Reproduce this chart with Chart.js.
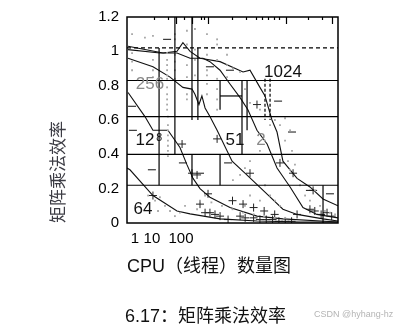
<!DOCTYPE html>
<html>
<head>
<meta charset="utf-8">
<script src="https://cdn.jsdelivr.net/npm/chart.js@4.4.1/dist/chart.umd.min.js"></script>
<style>
    body { margin: 0; background: #fff; }
    #wrap { position: relative; width: 398px; height: 330px; overflow: hidden; }
    #caption { position: absolute; left: 125px; top: 301px; font: 18px "Liberation Sans", "Noto Sans CJK SC"; color: #111; white-space: nowrap; }
    #mark { position: absolute; left: 314px; top: 309px; font: 9px "Liberation Sans", Arial; color: #b4b4b4; white-space: nowrap; }
</style>
</head>
<body>
<div id="wrap">
    <canvas id="chart" width="398" height="330"></canvas>
    <div id="caption">6.17：矩阵乘法效率</div>
    <div id="mark">CSDN @hyhang-hz</div>
</div>
<script>
// axis
const xTickValues = [3.8, 11.8, 25.6];
const xTickLabels = ['1', '10', '100'];
const topTickShort = [12.8, 19.4, 27.0, 35.1, 36.5, 49.8, 56.4, 61.1, 64.0, 66.8, 69.7, 72.0, 85.8, 92.4];
const topTickLong = [23.2, 30.8, 38.4, 75.4, 97.2];

// efficiency curves, one per matrix size
const c64X = [0, 1.4, 12.3, 23.7, 29.9, 44.1, 61.6, 82.0, 100];
const c64Y = [0.32, 0.31, 0.16, 0.07, 0.053, 0.024, 0.012, 0.006, 0.006];
const c128X = [0.5, 8.5, 12.3, 19.4, 25.1, 28.4, 31.3, 34.6, 39.3, 48.8, 61.6, 73.9, 100];
const c128Y = [0.76, 0.62, 0.54, 0.54, 0.44, 0.34, 0.26, 0.20, 0.15, 0.09, 0.04, 0.024, 0.006];
const c256X = [0.5, 12.3, 20.4, 26.5, 30.8, 32.2, 34.1, 35.5, 37.0, 39.3, 42.7, 49.8, 55.9, 65.4, 73.9, 80.6, 92.9, 100];
const c256Y = [0.96, 0.91, 0.85, 0.79, 0.78, 0.75, 0.69, 0.74, 0.67, 0.62, 0.54, 0.36, 0.29, 0.18, 0.08, 0.05, 0.024, 0.012];
const c512X = [0.5, 15.6, 23.7, 29.9, 36.0, 39.3, 44.1, 48.8, 53.6, 57.3, 61.6, 66.4, 71.1, 77.3, 83.4, 90.0, 100];
const c512Y = [1.01, 0.99, 0.99, 0.96, 0.96, 0.94, 0.89, 0.81, 0.73, 0.66, 0.54, 0.46, 0.32, 0.21, 0.09, 0.05, 0.03];
const c1024X = [0.5, 17.1, 23.7, 26.5, 29.9, 34.6, 44.1, 55.0, 58.3, 63.0, 65.4, 68.7, 71.1, 73.9, 80.6, 86.7, 92.9, 100];
const c1024Y = [1.03, 0.99, 1.0, 1.05, 1.0, 0.96, 0.94, 0.88, 0.89, 0.79, 0.74, 0.60, 0.53, 0.36, 0.26, 0.21, 0.14, 0.10];

// measured samples
const grayPts = [
    [2.4, 1.10], [2.4, 0.99], [2.4, 0.94], [2.4, 0.89], [8.5, 1.08], [12.3, 1.09], [12.3, 0.95], [12.3, 0.89], [12.3, 0.85],
    [19.0, 0.99], [19.0, 0.95], [19.0, 0.92], [19.0, 0.89], [19.0, 0.86], [19.0, 0.84], [19.0, 0.79], [19.0, 0.75], [19.0, 0.72],
    [19.0, 0.69], [19.0, 0.66], [22.7, 1.10], [22.7, 1.07], [22.7, 0.98], [22.7, 0.94], [22.7, 0.89], [22.7, 0.84],
    [28.4, 1.12], [28.4, 1.04], [28.4, 0.92], [28.4, 0.85], [28.4, 0.75], [28.4, 0.72], [32.2, 1.13], [32.2, 1.01], [32.2, 0.95],
    [32.2, 0.86], [37.9, 1.10], [37.9, 1.02], [37.9, 0.98], [37.9, 0.89], [37.9, 0.86], [37.9, 0.81], [37.9, 0.75],
    [42.7, 1.07], [42.7, 1.04], [42.7, 0.95], [42.7, 0.84], [42.7, 0.78], [42.7, 0.72], [42.7, 0.66], [47.4, 0.98], [47.4, 0.92],
    [47.4, 0.85], [50.2, 0.90], [53.6, 0.88], [55.9, 0.78], [58.3, 0.70], [63.0, 0.66],
    [19.4, 0.62], [19.4, 0.57], [19.4, 0.54], [19.4, 0.51], [19.4, 0.48], [19.4, 0.45], [19.4, 0.42], [19.4, 0.39],
    [10.0, 0.16], [13.3, 0.13], [15.6, 0.15], [18.0, 0.10], [20.4, 0.07], [22.7, 0.04], [14.7, 0.07], [25.1, 0.06], [27.5, 0.10],
    [33.2, 0.08], [34.6, 0.13], [37.0, 0.16], [50.2, 0.25], [53.6, 0.28], [55.9, 0.32], [58.3, 0.36], [63.0, 0.42], [65.4, 0.48],
    [67.8, 0.57], [70.1, 0.60], [72.5, 0.57], [74.9, 0.48], [76.3, 0.36], [77.3, 0.31], [82.0, 0.22], [84.4, 0.16], [86.7, 0.13],
    [89.1, 0.19], [91.5, 0.10], [93.8, 0.07], [96.2, 0.06], [98.6, 0.05], [74.9, 0.61], [77.3, 0.54], [78.2, 0.42], [79.6, 0.34],
    [65.4, 0.22], [67.8, 0.16], [70.1, 0.13], [72.5, 0.10], [63.0, 0.13], [58.3, 0.16], [55.9, 0.10],
    [40, 0.12], [45, 0.10], [50, 0.08], [55, 0.06], [60, 0.05], [65, 0.04], [70, 0.03], [75, 0.03]
];
const crossPts = [
    [12.3, 0.16], [26.1, 0.46], [30.8, 0.29], [33.2, 0.28], [38.4, 0.17], [42.7, 0.49], [37.0, 0.06], [39.3, 0.06], [41.7, 0.05],
    [44.1, 0.04], [47.9, 0.02], [34.6, 0.11], [58.3, 0.29], [78.7, 0.29], [88.2, 0.19], [72.5, 0.35], [80.6, 0.05], [86.7, 0.08],
    [94.8, 0.06], [53.6, 0.04], [56, 0.03], [60, 0.03], [63, 0.02], [66, 0.02], [69, 0.02], [72, 0.01], [75, 0.01], [78, 0.01],
    [50, 0.13], [55, 0.11], [60, 0.09], [65, 0.07], [70, 0.05], [61.6, 0.69], [89, 0.07], [92, 0.05], [97, 0.04]
];
const dashPts = [
    [2.4, 0.68], [19.0, 1.07], [39.3, 0.91], [48.8, 0.89], [71.6, 0.71], [2.8, 0.54], [11.8, 0.31], [26.5, 0.35],
    [34.6, 0.29], [47.9, 0.35], [78.2, 0.53], [86.7, 0.19], [96.2, 0.17]
];

// reference rules and boxes
const ruleLevels = [0.83, 0.62, 0.40, 0.22];
const dashedLevel = 1.02;
const vSegX = [22.7, 30.8, 30.8, 15.2, 33.6, 44.1, 44.1, 54.5, 56.9, 92.9];
const vSegTop = [1.2, 1.2, 0.40, 1.02, 1.02, 0.83, 0.40, 0.83, 0.83, 0.22];
const vSegBottom = [0.40, 0.60, 0.22, 0.22, 0.60, 0.66, 0.22, 0.40, 0.54, 0];
const dashSegX = [65.4, 67.8];
const dashSegTop = [0.84, 0.84];
const dashSegBottom = [0.60, 0.60];

// labels inside the plot
const curveLabels = ['1024', '256', '12', '51', '2', '64'];
const curveLabelX = [73.9, 10.9, 8.5, 51.2, 63.5, 7.6];
const curveLabelY = [0.88, 0.81, 0.48, 0.48, 0.48, 0.08];
const curveLabelColor = ['#111', '#8a8a8a', '#111', '#111', '#8a8a8a', '#111'];

function toPoints(xs, ys) {
    return xs.map((x, i) => ({ x: x, y: ys[i] }));
}

function curve(xs, ys) {
    return {
        type: 'line', data: toPoints(xs, ys), borderColor: '#111', borderWidth: 1.1,
        pointRadius: 0, tension: 0, fill: false
    };
}

function segment(x0, y0, x1, y1, dash) {
    return {
        type: 'line', data: [{ x: x0, y: y0 }, { x: x1, y: y1 }], borderColor: '#000',
        borderWidth: 1.2, borderDash: dash || [], pointRadius: 0
    };
}

const datasets = [];
ruleLevels.forEach(v => datasets.push(segment(0, v, 100, v)));
datasets.push(segment(0, dashedLevel, 100, dashedLevel, [4, 3]));
vSegX.forEach((x, i) => datasets.push(segment(x, vSegTop[i], x, vSegBottom[i])));
dashSegX.forEach((x, i) => datasets.push(segment(x, dashSegTop[i], x, dashSegBottom[i], [3, 2])));
datasets.push(segment(44.1, 0.74, 54.5, 0.74));
datasets.push({
    type: 'scatter', data: grayPts.map(p => ({ x: p[0], y: p[1] })), pointStyle: 'rect',
    pointRadius: 1.3, backgroundColor: '#a8a8a8', borderColor: '#a8a8a8', borderWidth: 0
});
datasets.push(curve(c64X, c64Y));
datasets.push(curve(c128X, c128Y));
datasets.push(curve(c256X, c256Y));
datasets.push(curve(c512X, c512Y));
datasets.push(curve(c1024X, c1024Y));
datasets.push({
    type: 'scatter', data: crossPts.map(p => ({ x: p[0], y: p[1] })), pointStyle: 'cross',
    pointRadius: 4, borderColor: '#222', borderWidth: 1
});
datasets.push({
    type: 'scatter', data: dashPts.map(p => ({ x: p[0], y: p[1] })), pointStyle: 'line',
    pointRadius: 4, borderColor: '#111', borderWidth: 1
});

const decorPlugin = {
    id: 'decor',
    afterDatasetsDraw(chart) {
        const ctx = chart.ctx;
        const area = chart.chartArea;
        const xs = chart.scales.x;
        const ys = chart.scales.y;
        ctx.save();
        ctx.strokeStyle = '#000';
        ctx.lineWidth = 1.5;
        ctx.strokeRect(area.left, area.top, area.right - area.left, area.bottom - area.top);
        ctx.lineWidth = 1.2;
        topTickShort.forEach(v => {
            const px = Math.round(xs.getPixelForValue(v)) + 0.5;
            ctx.beginPath(); ctx.moveTo(px, area.top); ctx.lineTo(px, area.top + 3); ctx.stroke();
        });
        topTickLong.forEach(v => {
            const px = Math.round(xs.getPixelForValue(v)) + 0.5;
            ctx.beginPath(); ctx.moveTo(px, area.top); ctx.lineTo(px, area.top + 7); ctx.stroke();
        });
        ctx.font = '17px "Liberation Sans", Arial';
        ctx.textAlign = 'center';
        ctx.textBaseline = 'middle';
        curveLabels.forEach((t, i) => {
            ctx.fillStyle = curveLabelColor[i];
            ctx.fillText(t, xs.getPixelForValue(curveLabelX[i]), ys.getPixelForValue(curveLabelY[i]));
        });
        ctx.font = '10px "DejaVu Sans"';
        ctx.fillStyle = '#111';
        ctx.fillText('8', xs.getPixelForValue(15.2), ys.getPixelForValue(0.49));
        ctx.restore();
    }
};

new Chart(document.getElementById('chart'), {
    data: { datasets: datasets },
    options: {
        responsive: false,
        animation: false,
        layout: { padding: { top: 17, right: 60, left: 0, bottom: 0 } },
        plugins: { legend: { display: false }, tooltip: { enabled: false } },
        scales: {
            x: {
                type: 'linear', min: 0, max: 100,
                afterBuildTicks: axis => { axis.ticks = xTickValues.map(v => ({ value: v })); },
                afterFit: axis => { axis.height = 107; },
                ticks: {
                    autoSkip: false, maxRotation: 0, padding: 7, color: '#000',
                    font: { family: '"Liberation Sans", Arial', size: 15 },
                    callback: (v, i) => xTickLabels[i]
                },
                grid: { display: false, drawTicks: false },
                border: { display: false },
                title: {
                    display: true, text: 'CPU（线程）数量图', align: 'start', color: '#111',
                    font: { family: '"Liberation Sans", "Noto Sans CJK SC"', size: 18 },
                    padding: { top: 0, bottom: 52 }
                }
            },
            y: {
                min: 0, max: 1.2,
                afterFit: axis => { axis.width = 127; },
                ticks: {
                    stepSize: 0.2, padding: 8, color: '#000',
                    font: { family: '"Liberation Sans", Arial', size: 15 },
                    callback: v => String(Math.round(v * 10) / 10)
                },
                grid: { display: false, drawTicks: false },
                border: { display: false },
                title: {
                    display: true, text: '矩阵乘法效率', align: 'start', color: '#3c3c44',
                    font: { family: '"Noto Sans CJK SC"', size: 17 },
                    padding: { top: 47, bottom: 0 }
                }
            }
        }
    },
    plugins: [decorPlugin]
});
</script>
</body>
</html>
